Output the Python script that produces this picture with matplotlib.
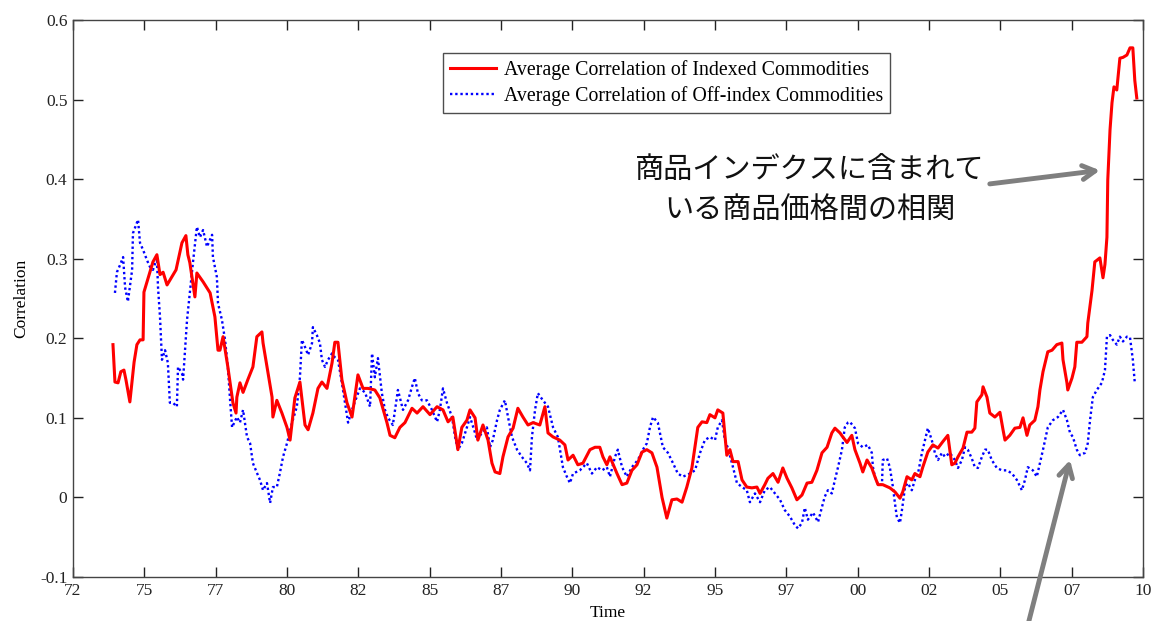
import matplotlib
matplotlib.use("Agg")
import matplotlib.pyplot as plt
import numpy as np

# Average rolling correlation, indexed commodities (time in decimal years)
indexed_time = [
    1973.42, 1973.49, 1973.60, 1973.70, 1973.81, 1973.88, 1974.02, 1974.17, 1974.27, 1974.38,
    1974.49, 1974.52, 1974.63, 1974.73, 1974.84, 1974.98, 1975.09, 1975.20, 1975.34, 1975.44,
    1975.66, 1975.87, 1976.01, 1976.08, 1976.15, 1976.33, 1976.40, 1976.62, 1976.87, 1977.04,
    1977.15, 1977.22, 1977.33, 1977.50, 1977.68, 1977.79, 1977.82, 1977.93, 1978.04, 1978.21,
    1978.39, 1978.53, 1978.71, 1978.75, 1978.89, 1979.07, 1979.10, 1979.24, 1979.42, 1979.60,
    1979.71, 1979.88, 1980.06, 1980.24, 1980.35, 1980.52, 1980.70, 1980.84, 1981.02, 1981.20,
    1981.30, 1981.41, 1981.55, 1981.73, 1981.91, 1982.12, 1982.30, 1982.48, 1982.72, 1982.90,
    1983.15, 1983.26, 1983.43, 1983.61, 1983.79, 1984.04, 1984.22, 1984.43, 1984.68, 1984.93,
    1985.14, 1985.32, 1985.49, 1985.67, 1985.81, 1985.99, 1986.10, 1986.28, 1986.38, 1986.56,
    1986.74, 1986.88, 1986.99, 1987.16, 1987.27, 1987.45, 1987.63, 1987.80, 1987.98, 1988.16,
    1988.34, 1988.58, 1988.76, 1988.87, 1989.05, 1989.29, 1989.47, 1989.58, 1989.76, 1989.93,
    1990.11, 1990.36, 1990.54, 1990.71, 1990.82, 1990.96, 1991.07, 1991.32, 1991.50, 1991.67,
    1991.85, 1992.03, 1992.21, 1992.38, 1992.56, 1992.74, 1992.92, 1993.09, 1993.27, 1993.45,
    1993.63, 1993.80, 1993.98, 1994.19, 1994.34, 1994.51, 1994.62, 1994.80, 1994.90, 1995.08,
    1995.22, 1995.33, 1995.44, 1995.62, 1995.76, 1995.93, 1996.11, 1996.29, 1996.40, 1996.57,
    1996.68, 1996.86, 1997.04, 1997.21, 1997.36, 1997.53, 1997.71, 1997.89, 1998.07, 1998.24,
    1998.42, 1998.60, 1998.78, 1998.95, 1999.06, 1999.24, 1999.34, 1999.49, 1999.66, 1999.77,
    1999.95, 2000.05, 2000.20, 2000.37, 2000.48, 2000.59, 2000.76, 2001.01, 2001.19, 2001.37,
    2001.47, 2001.62, 2001.79, 2001.90, 2002.08, 2002.18, 2002.36, 2002.54, 2002.72, 2002.89,
    2003.07, 2003.21, 2003.32, 2003.43, 2003.61, 2003.75, 2003.92, 2004.03, 2004.10, 2004.28,
    2004.32, 2004.46, 2004.56, 2004.74, 2004.92, 2005.03, 2005.10, 2005.27, 2005.45, 2005.63,
    2005.74, 2005.88, 2005.98, 2006.16, 2006.27, 2006.34, 2006.45, 2006.62, 2006.77, 2006.94,
    2007.12, 2007.16, 2007.30, 2007.33, 2007.48, 2007.58, 2007.65, 2007.83, 2008.01, 2008.04,
    2008.19, 2008.29, 2008.47, 2008.58, 2008.65, 2008.72, 2008.75, 2008.83, 2008.90, 2008.97,
    2009.07, 2009.18, 2009.29, 2009.43, 2009.54, 2009.64, 2009.71, 2009.78,
]
indexed_corr = [
    0.192, 0.145, 0.144, 0.158, 0.160, 0.148, 0.120, 0.170, 0.192, 0.198,
    0.198, 0.258, 0.271, 0.283, 0.296, 0.305, 0.280, 0.283, 0.267, 0.273,
    0.286, 0.320, 0.329, 0.305, 0.295, 0.252, 0.282, 0.271, 0.257, 0.227,
    0.185, 0.185, 0.202, 0.164, 0.119, 0.106, 0.126, 0.144, 0.132, 0.148,
    0.164, 0.202, 0.208, 0.194, 0.164, 0.126, 0.101, 0.122, 0.106, 0.088,
    0.072, 0.125, 0.145, 0.091, 0.085, 0.106, 0.137, 0.145, 0.137, 0.169,
    0.195, 0.195, 0.148, 0.119, 0.101, 0.154, 0.137, 0.137, 0.135, 0.125,
    0.094, 0.078, 0.075, 0.088, 0.094, 0.112, 0.106, 0.114, 0.104, 0.114,
    0.110, 0.095, 0.101, 0.060, 0.088, 0.097, 0.110, 0.100, 0.072, 0.091,
    0.072, 0.043, 0.032, 0.030, 0.051, 0.076, 0.087, 0.112, 0.101, 0.091,
    0.094, 0.091, 0.114, 0.081, 0.076, 0.072, 0.066, 0.047, 0.053, 0.041,
    0.043, 0.060, 0.063, 0.063, 0.051, 0.041, 0.051, 0.030, 0.016, 0.018,
    0.034, 0.041, 0.057, 0.060, 0.056, 0.038, 0.000, -0.026, -0.003, -0.002,
    -0.006, 0.013, 0.037, 0.088, 0.095, 0.094, 0.104, 0.100, 0.110, 0.106,
    0.053, 0.060, 0.045, 0.045, 0.022, 0.013, 0.012, 0.013, 0.005, 0.016,
    0.024, 0.030, 0.019, 0.037, 0.024, 0.012, -0.003, 0.003, 0.018, 0.019,
    0.034, 0.056, 0.063, 0.081, 0.087, 0.081, 0.076, 0.069, 0.078, 0.060,
    0.043, 0.032, 0.047, 0.037, 0.026, 0.016, 0.016, 0.012, 0.007, -0.001,
    0.007, 0.026, 0.022, 0.030, 0.026, 0.038, 0.057, 0.066, 0.062, 0.070,
    0.078, 0.041, 0.043, 0.051, 0.062, 0.082, 0.082, 0.087, 0.120, 0.129,
    0.139, 0.126, 0.106, 0.101, 0.107, 0.085, 0.072, 0.078, 0.087, 0.088,
    0.100, 0.078, 0.091, 0.097, 0.114, 0.135, 0.158, 0.183, 0.185, 0.192,
    0.194, 0.173, 0.144, 0.135, 0.150, 0.164, 0.195, 0.195, 0.202, 0.219,
    0.260, 0.296, 0.301, 0.276, 0.293, 0.327, 0.399, 0.462, 0.496, 0.516,
    0.512, 0.552, 0.553, 0.556, 0.565, 0.565, 0.524, 0.502,
]

# Average rolling correlation, off-index commodities
offindex_time = [
    1973.49, 1973.56, 1973.67, 1973.78, 1973.85, 1973.95, 1974.10, 1974.13, 1974.27, 1974.31,
    1974.38, 1974.49, 1974.63, 1974.73, 1974.84, 1974.98, 1975.02, 1975.09, 1975.16, 1975.27,
    1975.37, 1975.44, 1975.55, 1975.69, 1975.73, 1975.87, 1975.91, 1976.05, 1976.15, 1976.26,
    1976.40, 1976.51, 1976.62, 1976.76, 1976.94, 1976.97, 1977.11, 1977.15, 1977.29, 1977.40,
    1977.50, 1977.58, 1977.65, 1977.82, 1977.93, 1978.04, 1978.18, 1978.29, 1978.39, 1978.53,
    1978.64, 1978.75, 1978.89, 1979.00, 1979.10, 1979.24, 1979.35, 1979.46, 1979.60, 1979.78,
    1979.95, 1980.06, 1980.13, 1980.24, 1980.35, 1980.49, 1980.52, 1980.66, 1980.77, 1980.84,
    1980.95, 1981.06, 1981.20, 1981.30, 1981.41, 1981.55, 1981.66, 1981.77, 1981.91, 1982.01,
    1982.19, 1982.37, 1982.55, 1982.62, 1982.72, 1982.83, 1982.97, 1983.08, 1983.19, 1983.36,
    1983.54, 1983.72, 1983.90, 1984.04, 1984.14, 1984.25, 1984.39, 1984.57, 1984.75, 1984.93,
    1985.03, 1985.14, 1985.28, 1985.46, 1985.57, 1985.67, 1985.81, 1985.99, 1986.10, 1986.28,
    1986.35, 1986.52, 1986.70, 1986.81, 1986.91, 1987.06, 1987.16, 1987.34, 1987.45, 1987.59,
    1987.77, 1987.94, 1988.12, 1988.23, 1988.30, 1988.41, 1988.51, 1988.69, 1988.87, 1989.05,
    1989.22, 1989.40, 1989.54, 1989.65, 1989.76, 1990.00, 1990.25, 1990.43, 1990.61, 1990.79,
    1990.96, 1991.07, 1991.25, 1991.35, 1991.50, 1991.67, 1991.85, 1992.06, 1992.24, 1992.38,
    1992.49, 1992.60, 1992.77, 1992.95, 1993.13, 1993.31, 1993.48, 1993.66, 1993.91, 1994.09,
    1994.27, 1994.44, 1994.62, 1994.80, 1994.90, 1995.05, 1995.15, 1995.26, 1995.44, 1995.58,
    1995.76, 1995.93, 1996.04, 1996.22, 1996.40, 1996.57, 1996.75, 1996.93, 1997.11, 1997.28,
    1997.46, 1997.64, 1997.75, 1997.89, 1997.99, 1998.10, 1998.28, 1998.46, 1998.60, 1998.70,
    1998.81, 1998.95, 1999.06, 1999.17, 1999.31, 1999.41, 1999.52, 1999.59, 1999.77, 1999.88,
    2000.05, 2000.23, 2000.37, 2000.41, 2000.48, 2000.59, 2000.73, 2000.76, 2000.91, 2001.01,
    2001.12, 2001.19, 2001.26, 2001.37, 2001.44, 2001.55, 2001.65, 2001.79, 2001.90, 2002.01,
    2002.15, 2002.26, 2002.36, 2002.50, 2002.61, 2002.72, 2002.86, 2002.97, 2003.14, 2003.32,
    2003.43, 2003.57, 2003.68, 2003.78, 2003.92, 2004.03, 2004.14, 2004.28, 2004.39, 2004.49,
    2004.63, 2004.81, 2004.99, 2005.17, 2005.35, 2005.52, 2005.70, 2005.81, 2005.91, 2006.09,
    2006.23, 2006.34, 2006.45, 2006.62, 2006.80, 2006.98, 2007.16, 2007.30, 2007.41, 2007.51,
    2007.65, 2007.76, 2007.94, 2008.04, 2008.12, 2008.22, 2008.36, 2008.54, 2008.65, 2008.72,
    2008.83, 2008.93, 2009.07, 2009.18, 2009.29, 2009.43, 2009.54, 2009.64, 2009.71,
]
offindex_corr = [
    0.257, 0.283, 0.292, 0.302, 0.264, 0.246, 0.286, 0.332, 0.345, 0.349,
    0.320, 0.311, 0.298, 0.290, 0.286, 0.301, 0.264, 0.227, 0.173, 0.185,
    0.169, 0.119, 0.119, 0.114, 0.164, 0.156, 0.148, 0.223, 0.257, 0.295,
    0.340, 0.327, 0.336, 0.315, 0.330, 0.302, 0.277, 0.244, 0.223, 0.198,
    0.164, 0.122, 0.088, 0.101, 0.094, 0.110, 0.076, 0.068, 0.043, 0.031,
    0.022, 0.009, 0.018, -0.007, 0.013, 0.013, 0.031, 0.051, 0.068, 0.094,
    0.114, 0.151, 0.198, 0.189, 0.179, 0.194, 0.214, 0.204, 0.194, 0.173,
    0.164, 0.173, 0.181, 0.176, 0.173, 0.144, 0.119, 0.094, 0.110, 0.120,
    0.137, 0.132, 0.114, 0.181, 0.151, 0.175, 0.131, 0.110, 0.100, 0.091,
    0.135, 0.110, 0.122, 0.139, 0.150, 0.131, 0.122, 0.122, 0.110, 0.095,
    0.110, 0.137, 0.119, 0.101, 0.076, 0.060, 0.068, 0.088, 0.101, 0.081,
    0.072, 0.081, 0.088, 0.063, 0.072, 0.097, 0.110, 0.122, 0.101, 0.076,
    0.060, 0.051, 0.043, 0.034, 0.076, 0.110, 0.131, 0.122, 0.114, 0.088,
    0.076, 0.038, 0.026, 0.018, 0.030, 0.034, 0.043, 0.030, 0.038, 0.034,
    0.038, 0.026, 0.051, 0.060, 0.038, 0.026, 0.038, 0.047, 0.060, 0.068,
    0.088, 0.101, 0.094, 0.063, 0.056, 0.043, 0.030, 0.026, 0.030, 0.034,
    0.056, 0.072, 0.076, 0.072, 0.088, 0.097, 0.072, 0.062, 0.038, 0.018,
    0.013, 0.009, -0.006, 0.005, -0.006, 0.009, 0.013, 0.005, -0.003, -0.016,
    -0.024, -0.035, -0.039, -0.032, -0.013, -0.028, -0.019, -0.031, -0.012, 0.001,
    0.009, 0.005, 0.022, 0.038, 0.060, 0.088, 0.094, 0.095, 0.087, 0.068,
    0.063, 0.066, 0.056, 0.038, 0.026, 0.016, 0.016, 0.047, 0.049, 0.038,
    0.013, -0.007, -0.025, -0.032, -0.016, 0.013, 0.018, 0.009, 0.022, 0.030,
    0.056, 0.072, 0.087, 0.072, 0.056, 0.047, 0.056, 0.051, 0.056, 0.047,
    0.037, 0.047, 0.063, 0.060, 0.049, 0.038, 0.037, 0.051, 0.060, 0.060,
    0.047, 0.037, 0.034, 0.034, 0.030, 0.022, 0.009, 0.022, 0.038, 0.034,
    0.026, 0.043, 0.060, 0.088, 0.097, 0.101, 0.110, 0.097, 0.081, 0.076,
    0.060, 0.053, 0.056, 0.068, 0.097, 0.126, 0.135, 0.144, 0.160, 0.202,
    0.204, 0.198, 0.192, 0.202, 0.196, 0.202, 0.201, 0.173, 0.144,
]

# Axis ticks: 16 evenly spaced marks labelled with two-digit years
tick_labels = ["72", "75", "77", "80", "82", "85", "87", "90",
               "92", "95", "97", "00", "02", "05", "07", "10"]
x_start, x_end = 1972.0, 2010.0
y_ticks = [-0.1, 0.0, 0.1, 0.2, 0.3, 0.4, 0.5, 0.6]
y_tick_labels = ["-0.1", "0", "0.1", "0.2", "0.3", "0.4", "0.5", "0.6"]

legend_labels = ["Average Correlation of Indexed Commodities",
                 "Average Correlation of Off-index Commodities"]
note_text = "商品インデクスに含まれて\nいる商品価格間の相関"

serif = ["Liberation Serif", "DejaVu Serif"]
cjk = ["Noto Sans CJK JP", "DejaVu Sans"]

fig = plt.figure(figsize=(11.53, 6.21), dpi=100)
ax = fig.add_axes([0.0633, 0.0709, 0.9280, 0.8969])

ax.plot(indexed_time, indexed_corr, color="#ff0000", lw=2.2, ls="-",
        label=legend_labels[0], zorder=3)
ax.plot(offindex_time, offindex_corr, color="#0000ff", lw=1.7, ls=(0, (1, 1.2)),
        label=legend_labels[1], zorder=2)

ax.set_xlim(x_start, x_end)
ax.set_ylim(-0.1, 0.6)
ax.set_xticks(np.linspace(x_start, x_end, len(tick_labels)))
ax.set_xticklabels(tick_labels, fontfamily=serif, fontsize=12.5)
ax.set_yticks(y_ticks)
ax.set_yticklabels(y_tick_labels, fontfamily=serif, fontsize=12.5)
ax.tick_params(direction="in", length=7, width=1, top=True, right=True,
               colors="#222222", pad=4)
for s in ax.spines.values():
    s.set_color("#444444")
    s.set_linewidth(1.0)

ax.set_xlabel("Time", fontfamily=serif, fontsize=12.5, labelpad=5)
ax.set_ylabel("Correlation", fontfamily=serif, fontsize=12.5, labelpad=8)

leg = ax.legend(loc="upper left", bbox_to_anchor=(0.346, 0.941),
                prop={"family": serif, "size": 14.3}, frameon=True, fancybox=False,
                edgecolor="#222222", handlelength=2.3, handletextpad=0.4,
                borderpad=0.35, labelspacing=0.3, borderaxespad=0.0)
leg.get_frame().set_linewidth(1.0)

ax.text(1998.17, 0.386, note_text, ha="center", va="center", fontfamily=cjk,
        fontsize=21, linespacing=1.45, color="#111111")

arrow_style = dict(arrowstyle="->,head_length=0.9,head_width=0.5",
                   color="#7f7f7f", lw=3.5, shrinkA=0, shrinkB=0)
ax.annotate("", xy=(2008.47, 0.411), xytext=(2004.56, 0.394),
            arrowprops=arrow_style)
ax.annotate("", xy=(2007.41, 0.047), xycoords="data",
            xytext=(0.891, -0.01), textcoords="figure fraction",
            arrowprops=arrow_style, annotation_clip=False)

fig.savefig("out.png", dpi=100)
